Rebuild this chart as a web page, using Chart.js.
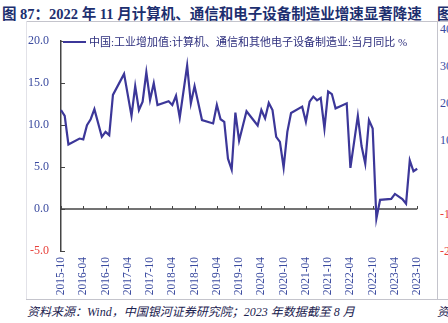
<!DOCTYPE html>
<html>
<head>
<meta charset="utf-8">
<script src="https://cdn.jsdelivr.net/npm/chart.js@4/dist/chart.umd.min.js"></script>
<style>
  html, body { margin: 0; padding: 0; background: #fff; }
  body { width: 448px; height: 323px; position: relative; overflow: hidden; }
  .title { position: absolute; left: 2px; top: 2px; white-space: nowrap;
    font: bold 14.5px "Liberation Serif", "Noto Sans CJK SC", serif; color: #1d2f6f; }
  .title2 { position: absolute; left: 437px; top: 2px;
    font: bold 14.5px "Noto Sans CJK SC", serif; color: #1d2f6f; }
  .frame { position: absolute; background: #c4c4cc; }
  .legend { position: absolute; left: 63px; top: 33px; white-space: nowrap;
    font: 11px "Liberation Serif", "Noto Sans CJK SC", serif; color: #2e2f7e; }
  .legend .swatch { display: inline-block; width: 23px; height: 2px; background: #3c3799;
    vertical-align: middle; margin-right: 3px; position: relative; top: -1px; }
  .source { position: absolute; left: 27px; top: 302px; white-space: nowrap;
    font: italic 12px "Liberation Serif", "Noto Sans CJK SC", serif; color: #1c2350; }
  .source2 { position: absolute; left: 437px; top: 302px;
    font: italic 12px "Noto Sans CJK SC", serif; color: #1c2350; }
  .rtick { position: absolute; left: 440px; font: 12px "Liberation Serif", serif; }
  #wrap { position: absolute; left: 26px; top: 22px; width: 411px; height: 276px; }
</style>
</head>
<body>
<div class="title">图 87：2022 年 11 月计算机、通信和电子设备制造业增速显著降速</div>
<div class="title2">图</div>
<div class="frame" style="left:26px;top:21px;width:422px;height:1px;"></div>
<div class="frame" style="left:26px;top:299px;width:422px;height:1px;"></div>
<div class="frame" style="left:26px;top:21px;width:1px;height:278px;background:#e2e2e8;"></div>
<div class="frame" style="left:437px;top:21px;width:1px;height:278px;"></div>
<div class="rtick" style="top:22px;color:#3a4a9f;">40</div>
<div class="rtick" style="top:59px;color:#3a4a9f;">30</div>
<div class="rtick" style="top:96px;color:#3a4a9f;">20</div>
<div class="rtick" style="top:133px;color:#3a4a9f;">10</div>
<div class="rtick" style="top:207px;color:#e8413b;">-10</div>
<div class="rtick" style="top:244px;color:#e8413b;">-20</div>
<div id="wrap"><canvas id="c"></canvas></div>
<div class="legend"><span class="swatch"></span>中国:工业增加值:计算机、通信和其他电子设备制造业:当月同比 %</div>
<div class="source">资料来源：Wind，中国银河证券研究院；2023 年数据截至 8 月</div>
<div class="source2">资</div>

<script>
(function() {
  'use strict';

  // ── Axis labels shown every 6 months ──
  var tickLabels = ['2015-10', '2016-04', '2016-10', '2017-04', '2017-10', '2018-04',
    '2018-10', '2019-04', '2019-10', '2020-04', '2020-10', '2021-04', '2021-10',
    '2022-04', '2022-10', '2023-04', '2023-10'];
  var yTicks = [-5, 0, 5, 10, 15, 20];

  // ── Monthly categories 2015-10 .. 2023-10 ──
  var months = [];
  for (var y = 2015; y <= 2023; y++) {
    for (var m = 1; m <= 12; m++) {
      if ((y === 2015 && m < 10) || (y === 2023 && m > 10)) continue;
      months.push(y + '-' + (m < 10 ? '0' + m : m));
    }
  }

  // ── YoY % (null = no visible vertex) ──
  var yoy = [
    11.8, 11.1, 7.7, null, null, 8.4, 8.3, 10.0, 10.7, 11.9,
    null, 8.6, 9.2, 8.8, 13.6, null, null, 16.1, null, 11.1,
    14.65, 11.8, 12.8, 16.3, 13.0, 15.0, 12.4, null, null, 12.85,
    12.4, 13.5, 10.9, null, 17.1, 12.6, 14.65, null, 10.6, null,
    null, 10.2, 12.4, 10.7, 10.4, 6.0, 4.7, 11.5, 8.15, null,
    11.65, null, null, 9.95, 11.8, 10.8, 12.65, 11.8, 8.6, 8.0,
    4.95, 9.2, 11.45, null, null, 12.2, 10.4, 12.8, 13.4, 12.95,
    13.25, 9.6, 14.0, 13.7, 12.0, 12.2, null, 12.6, 4.9, null,
    11.1, 7.5, 5.4, 10.6, 9.6, -1.15, 1.1, null, null, 1.2,
    1.8, null, 1.2, 0.65, 5.8, 4.5, 4.8
  ];

  var LINE = '#3c3799';
  var BLUE = '#3a4a9f';
  var RED = '#e8413b';
  var AXIS = '#444';

  // ── Zero line with inward ticks, and inward y ticks ──
  var axesPlugin = {
    id: 'axesInward',
    beforeDatasetsDraw: function(chart) {
      var ctx = chart.ctx;
      var xs = chart.scales.x, ys = chart.scales.y;
      var area = chart.chartArea;
      var y0 = ys.getPixelForValue(0);
      ctx.save();
      ctx.strokeStyle = AXIS;
      ctx.lineWidth = 1.5;
      ctx.beginPath();
      ctx.moveTo(area.left, y0);
      ctx.lineTo(area.right, y0);
      ctx.stroke();
      ctx.lineWidth = 1;
      ctx.beginPath();
      for (var i = 0; i < tickLabels.length; i++) {
        var idx = months.indexOf(tickLabels[i]);
        var px = Math.round(xs.getPixelForValue(idx)) + 0.5;
        ctx.moveTo(px, y0);
        ctx.lineTo(px, y0 - 3);
      }
      for (var j = 0; j < yTicks.length; j++) {
        var py = Math.round(ys.getPixelForValue(yTicks[j])) + 0.5;
        ctx.moveTo(area.left, py);
        ctx.lineTo(area.left + 4, py);
      }
      ctx.stroke();
      ctx.restore();
    }
  };

  new Chart(document.getElementById('c').getContext('2d'), {
    type: 'line',
    data: {
      labels: months,
      datasets: [{
        label: '中国:工业增加值:计算机、通信和其他电子设备制造业:当月同比 %',
        data: yoy,
        borderColor: LINE,
        borderWidth: 2.2,
        pointRadius: 0,
        spanGaps: true,
        tension: 0,
        fill: false
      }]
    },
    options: {
      responsive: true,
      maintainAspectRatio: false,
      animation: false,
      layout: { padding: { top: 7, right: 13, bottom: 0, left: 0 } },
      plugins: { legend: { display: false }, tooltip: { enabled: false } },
      scales: {
        x: {
          type: 'category',
          grid: { display: false, drawTicks: false },
          border: { display: false },
          afterFit: function(s) { s.height = 47; },
          ticks: {
            autoSkip: false,
            minRotation: 90,
            maxRotation: 90,
            padding: 6,
            color: BLUE,
            font: { family: "'Liberation Serif', serif", size: 11.5 },
            callback: function(v) {
              var lab = this.getLabelForValue(v);
              return tickLabels.indexOf(lab) >= 0 ? lab : null;
            }
          }
        },
        y: {
          min: -5,
          max: 20,
          grid: { display: false, drawTicks: false },
          border: { display: true, color: AXIS, width: 1.5 },
          afterFit: function(s) { s.width = 35; },
          ticks: {
            stepSize: 5,
            padding: 12,
            color: function(c) { return c.tick.value < 0 ? RED : BLUE; },
            font: { family: "'Liberation Serif', serif", size: 12 },
            callback: function(v) { return v.toFixed(1); }
          }
        }
      }
    },
    plugins: [axesPlugin]
  });
})();
</script>
</body>
</html>
